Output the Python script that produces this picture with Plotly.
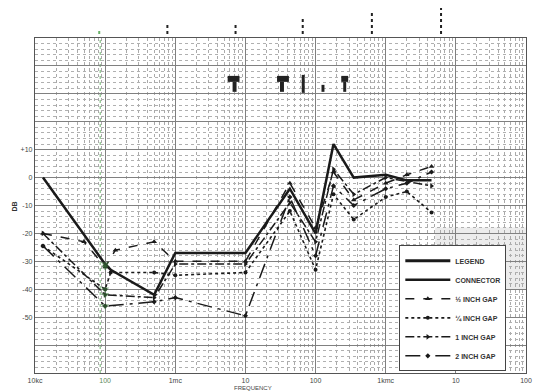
import plotly.graph_objects as go

# ---- data (frequency in kc, response in dB) ----
tick_vals_x = [10, 100, 1e3, 1e4, 1e5, 1e6, 1e7, 1e8]
tick_text_x = ["10kc", "<span style='color:#5a8a5a'>100</span>", "1mc", "10", "100", "1kmc", "10", "100"]

y_tick_vals = [-70, -60, -50, -40, -30, -20, -10, 0, 10, 20, 30, 40, 50]
y_tick_text = ["", "", "-50", "-40", "-30", "-20", "-10", "0", "+10", "", "", "", ""]

freq_conn = [13, 100, 120, 500, 1000, 10000, 43000, 100000, 180000, 350000, 1000000, 2000000, 4500000]
db_conn = [0, -31, -33, -42, -27, -27, -4, -20, 12, 0, 1, -1, -1]

freq_half = [13, 50, 100, 140, 500, 1000, 10000, 43000, 100000, 180000, 350000, 1000000, 2000000, 4500000]
db_half = [-20, -23, -32, -26, -23, -30, -30, -2, -18, 2, -8, -2, 1, 4]

freq_quarter = [13, 100, 120, 500, 1000, 10000, 43000, 100000, 180000, 350000, 1000000, 2000000, 4500000]
db_quarter = [-24.5, -40, -34, -34, -35, -34, -12, -33, -6, -15, -7, -5, -12.5]

freq_one = [13, 100, 500, 1000, 10000, 43000, 100000, 180000, 350000, 1000000, 4500000]
db_one = [-20, -42, -43, -31, -31, -9, -23, 3, -6, 0, -3]

freq_two = [13, 100, 500, 1000, 10000, 43000, 100000, 180000, 350000, 1000000, 2000000, 4500000]
db_two = [-24.5, -46, -44.5, -43, -49.5, -7, -28, -3, -10, -4, -2, 2]

names = ["CONNECTOR", "\u00bd INCH GAP", "\u00bc INCH GAP", "1 INCH GAP", "2 INCH GAP"]

INK = "#1a1a1a"

fig = go.Figure()

# legend header entry
fig.add_trace(go.Scatter(x=[None], y=[None], mode="lines", name="<b>LEGEND</b>",
                         line=dict(color=INK, width=3)))

fig.add_trace(go.Scatter(x=freq_conn, y=db_conn, mode="lines", name="<b>" + names[0] + "</b>",
                         line=dict(color=INK, width=2.5)))
fig.add_trace(go.Scatter(x=freq_half, y=db_half, mode="lines+markers", name="<b>" + names[1] + "</b>",
                         line=dict(color=INK, width=1.5, dash="dash"),
                         marker=dict(symbol="triangle-up", size=5, color=INK)))
fig.add_trace(go.Scatter(x=freq_quarter, y=db_quarter, mode="lines+markers", name="<b>" + names[2] + "</b>",
                         line=dict(color=INK, width=1.6, dash="dot"),
                         marker=dict(symbol="circle", size=4, color=INK)))
fig.add_trace(go.Scatter(x=freq_one, y=db_one, mode="lines+markers", name="<b>" + names[3] + "</b>",
                         line=dict(color=INK, width=1.5, dash="dashdot"),
                         marker=dict(symbol="triangle-right", size=5, color=INK)))
fig.add_trace(go.Scatter(x=freq_two, y=db_two, mode="lines+markers", name="<b>" + names[4] + "</b>",
                         line=dict(color=INK, width=1.5, dash="longdashdot"),
                         marker=dict(symbol="diamond", size=4, color=INK)))

# green tint at the 100 kc points (scan colouring)
gx, gy = [], []
for fr, db in [(freq_conn, db_conn), (freq_half, db_half), (freq_quarter, db_quarter),
               (freq_one, db_one), (freq_two, db_two)]:
    for f, d in zip(fr, db):
        if f == 100:
            gx.append(f)
            gy.append(d)
fig.add_trace(go.Scatter(x=gx, y=gy, mode="markers", showlegend=False, hoverinfo="skip",
                         marker=dict(size=7, color="rgba(60,120,60,0.55)", symbol="triangle-down")))

# ---- decorative scan artefacts (positions given in reference page pixels) ----
def fx(px):
    return 10 ** (1 + (px - 35) / 71.0)

def dby(py):
    return (178 - py) / 2.8

def pyp(py):
    return (374 - py) / 336.0

shapes = []
# grey stippled patch lower right
shapes.append(dict(type="rect", xref="x", yref="y", x0=fx(440), x1=fx(532), y0=dby(290), y1=dby(228),
                   fillcolor="rgba(120,120,120,0.14)", line=dict(width=0), layer="below"))
# green vertical line near 100 kc
shapes.append(dict(type="line", xref="x", yref="paper", x0=fx(101), x1=fx(101), y0=0, y1=1,
                   line=dict(color="rgba(90,170,90,0.75)", width=1.2, dash="dot"), layer="below"))
# tick marks above the frame
for px, top in [(33, 31), (100, 28), (169, 24), (238, 22), (306, 17), (376, 11), (446, 8)]:
    col = "rgba(90,170,90,0.9)" if px == 100 else "#222"
    shapes.append(dict(type="line", xref="x", yref="paper", x0=fx(px), x1=fx(px),
                       y0=pyp(34), y1=pyp(top), line=dict(color=col, width=2, dash="dot")))
# dark "T" blots inside the upper grid
blots = [(230, 242, 76, 82), (235, 239, 82, 92), (280, 292, 76, 82), (283, 287, 82, 92),
         (305, 308, 75, 93), (325, 328, 85, 92), (345, 352, 76, 82), (347, 350, 82, 92)]
for x0, x1, y0, y1 in blots:
    shapes.append(dict(type="rect", xref="x", yref="y", x0=fx(x0), x1=fx(x1), y0=dby(y1), y1=dby(y0),
                       fillcolor="#222", line=dict(width=0)))

minor_x = [k * 10 ** n for n in range(1, 8) for k in range(2, 10)]

fig.update_layout(
    width=540, height=392,
    margin=dict(l=35, r=8, t=38, b=18),
    paper_bgcolor="white", plot_bgcolor="white",
    font=dict(family="Liberation Sans", size=7, color="#333"),
    shapes=shapes,
    showlegend=True,
    legend=dict(x=0.742, y=0.005, xanchor="left", yanchor="bottom", bgcolor="white",
                bordercolor="#444", borderwidth=1, font=dict(size=7, color="#333"),
                itemwidth=45, tracegroupgap=0),
    annotations=[
        dict(text="FREQUENCY", xref="paper", yref="paper", x=0.445, y=-0.045, showarrow=False,
             font=dict(size=6, color="#444"), yanchor="middle"),
        dict(text="<b>DB</b>", xref="paper", yref="paper", x=-0.052, y=0.497, showarrow=False,
             textangle=-90, font=dict(size=7, color="#333")),
    ],
)

fig.update_xaxes(type="log", range=[1, 8], tickmode="array", tickvals=tick_vals_x, ticktext=tick_text_x,
                 showgrid=True, gridcolor="#808080", gridwidth=1.3, ticks="",
                 showline=True, mirror=True, linecolor="#555", linewidth=1.3,
                 tickfont=dict(size=7, color="#444"), zeroline=False,
                 minor=dict(tickmode="array", tickvals=minor_x, showgrid=True, gridcolor="#aaaaaa",
                            griddash="dot", gridwidth=1, ticks=""))
fig.update_yaxes(range=[-70, 50], tickmode="array", tickvals=y_tick_vals, ticktext=y_tick_text,
                 showgrid=True, gridcolor="#808080", gridwidth=1.3, ticks="",
                 showline=True, mirror=True, linecolor="#555", linewidth=1.3,
                 tickfont=dict(size=7, color="#444"), zeroline=False,
                 minor=dict(dtick=2, showgrid=True, gridcolor="#b0b0b0", griddash="dot", gridwidth=1, ticks=""))

# remove the default page margin so the 540x392 figure fills the window exactly
fig.write_html("out.html", config={"displayModeBar": False},
               post_script="document.body.style.margin='0';document.body.style.overflow='hidden';")
